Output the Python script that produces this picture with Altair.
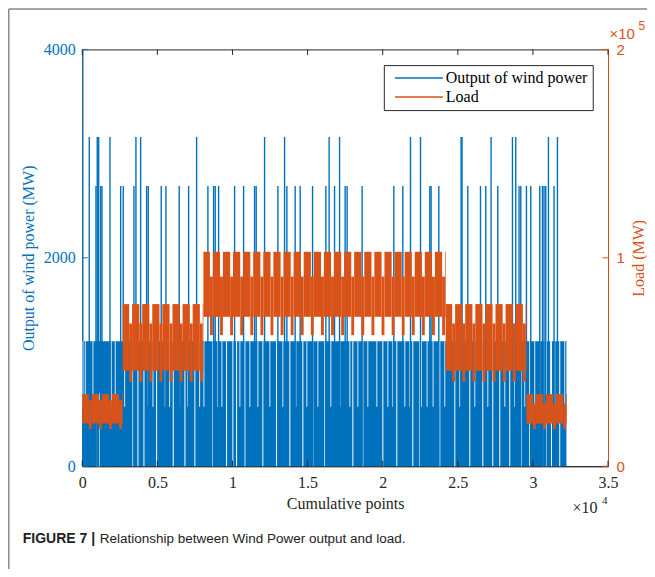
import altair as alt
import pandas as pd

BLUE = "#0072BD"
ORANGE = "#D95319"
DARK = "#262626"

# ---------------- data ----------------
x_ticks = [0, 5000, 10000, 15000, 20000, 25000, 30000, 35000]
left_ticks = [0, 2000, 4000]
right_ticks = [0, 100000, 200000]

series_names = ["Output of wind power", "Load"]

# wind power: dense band and spikes
wind_start = 0
wind_end = 32232
wind_band_top = 1200
wind_band_mid = 570

spike_tall_x = [466, 998, 1091, 1843, 3573, 3886, 7612, 12137, 13468, 16435, 17127,
                21852, 22517, 25219, 25285, 27215, 28639, 28858, 31034, 31633]
spike_tall_y = 3160
spike_mid_x = [912, 1224, 1311, 2555, 2728, 3440, 4285, 4392, 5257, 5569, 6454, 7080,
               8364, 8743, 8850, 9076, 10141, 10740, 11471, 11578, 13022, 13621, 14173,
               14506, 15331, 16216, 16795, 17500, 17633, 18631, 20740, 21339, 23136,
               23222, 23735, 25665, 26510, 26862, 27661, 29078, 29191, 29570, 29857,
               30456, 30635, 30741, 30855, 31407]
spike_mid_y = 2690

# white gaps through the whole band (0 -> 1200)
gap_x = [3374, 3706, 4106, 4951, 6055, 6834, 7499, 8697, 9608, 10028, 10274, 10826,
         12024, 12935, 13820, 14685, 15351, 16149, 18013, 18678, 20009, 20940, 22005,
         22471, 23802, 24800, 25798, 26663, 27328, 27794, 28459, 29238, 29790, 30655,
         30901, 31234, 31786]
# white gaps in the upper part of the band only (570 -> 1200)
part_gap_x = [47, 200, 712, 1930, 2196, 2821, 4372, 4705, 5523, 5816, 6481, 7033, 7812,
              8098, 9030, 9296, 10493, 11159, 11691, 12490, 13355, 14220, 14952, 15684,
              16549, 17148, 17814, 18346, 19011, 19610, 20342, 20675, 21474, 21806, 22584,
              22956, 23356, 23755, 24134, 25135, 26133, 26998, 28129, 28795, 29460, 30123,
              30455, 30788, 31167, 31453, 32119]
wide_gap_x = [945]
wide_gap_x2 = [1211]
wide_gap_top = [700]

# load: plateaus with weekday / weekend ranges
plateau_start = [0, 2688, 8064, 24192, 29568]
plateau_end = [2688, 8064, 24192, 29568, 32256]
weekday_low = [20500, 45800, 71700, 45800, 20500]
weekday_high = [34600, 77800, 102900, 77800, 34600]
weekend_low = [17900, 40500, 62900, 40500, 17900]
weekend_high = [31700, 68500, 91000, 68500, 30100]
weekend_center = [532, 1204, 1876, 2548, 3220, 3892, 4564, 5236, 5908, 6580, 7252, 7924,
                  8596, 9268, 9940, 10612, 11284, 11956, 12628, 13300, 13972, 14644,
                  15316, 15988, 16660, 17332, 18004, 18676, 19348, 20020, 20692, 21364,
                  22036, 22708, 23380, 24052, 24724, 25396, 26068, 26740, 27412, 28084,
                  28756, 29428, 30100, 30772, 31444, 32116]
weekend_half = 96

# ---------------- tables ----------------
band_df = pd.DataFrame({"x": [wind_start], "x2": [wind_end], "y": [0], "y2": [wind_band_top]})
gap_df = pd.DataFrame({"x": gap_x, "y": 0, "y2": wind_band_top})
part_gap_df = pd.DataFrame({"x": part_gap_x, "y": wind_band_mid, "y2": wind_band_top})
wide_gap_df = pd.DataFrame({"x": wide_gap_x, "x2": wide_gap_x2, "y": 0, "y2": wide_gap_top})
spike_df = pd.DataFrame({
    "x": spike_tall_x + spike_mid_x,
    "y": [spike_tall_y] * len(spike_tall_x) + [spike_mid_y] * len(spike_mid_x),
})

rows = []
for i in range(len(plateau_start)):
    s, e = plateau_start[i], plateau_end[i]
    cur = s
    for c in weekend_center:
        a, b = c - weekend_half, c + weekend_half
        if b <= s or a >= e:
            continue
        a, b = max(a, s), min(b, e)
        if a > cur:
            rows.append((cur, a, weekday_low[i], weekday_high[i]))
        rows.append((a, b, weekend_low[i], weekend_high[i]))
        cur = b
    if cur < e:
        rows.append((cur, e, weekday_low[i], weekday_high[i]))
load_df = pd.DataFrame(rows, columns=["x", "x2", "y", "y2"])

xt_df = pd.DataFrame({"v": x_ticks})
lt_df = pd.DataFrame({"v": left_ticks})
rt_df = pd.DataFrame({"v": right_ticks})
legend_df = pd.DataFrame({"series": series_names})

W, H = 526, 417

# ---------------- scales / axes ----------------
xs = alt.Scale(domain=[0, 35000], nice=False, zero=False)
yl = alt.Scale(domain=[0, 4000], nice=False)
yr = alt.Scale(domain=[0, 200000], nice=False)

x_axis = alt.Axis(values=x_ticks, labelExpr="'' + datum.value/10000", title="Cumulative points",
                  ticks=False, grid=False, domainColor=DARK, labelColor=DARK, titleColor=DARK,
                  labelFont="Liberation Serif", labelFontSize=16, titleFont="Liberation Serif",
                  titleFontSize=16, titleFontWeight="normal", labelPadding=8, titlePadding=5,
                  labelFlush=False)
left_axis = alt.Axis(orient="left", values=left_ticks, format="d", title="Output of wind power (MW)",
                     ticks=False, grid=False, domainColor=BLUE, labelColor=BLUE, titleColor=BLUE,
                     labelFont="Liberation Serif", labelFontSize=16, titleFont="Liberation Serif",
                     titleFontSize=16, titleFontWeight="normal", labelPadding=7, titlePadding=7)
right_axis = alt.Axis(orient="right", values=right_ticks, labelExpr="'' + datum.value/100000",
                      title="Load (MW)", titleAngle=270, titleBaseline="top", ticks=False, grid=False,
                      domainColor=ORANGE, labelColor=ORANGE, titleColor=ORANGE,
                      labelFont="Liberation Sans", labelFontSize=15, titleFont="Liberation Serif",
                      titleFontSize=16, titleFontWeight="normal", labelPadding=8, titlePadding=6)

X = lambda f="x": alt.X(f"{f}:Q", scale=xs, axis=x_axis)
YL = lambda f="y": alt.Y(f"{f}:Q", scale=yl, axis=left_axis)
YR = lambda f="y": alt.Y(f"{f}:Q", scale=yr, axis=right_axis)

band = alt.Chart(band_df).mark_rect(color=BLUE).encode(x=X(), x2="x2:Q", y=YL(), y2="y2:Q")
gaps = alt.Chart(gap_df).mark_rule(color="white", strokeWidth=1).encode(x=X(), y=YL(), y2="y2:Q")
part_gaps = alt.Chart(part_gap_df).mark_rule(color="white", strokeWidth=1, opacity=0.85).encode(
    x=X(), y=YL(), y2="y2:Q")
wide = alt.Chart(wide_gap_df).mark_rect(color="white").encode(x=X(), x2="x2:Q", y=YL(), y2="y2:Q")
spikes = alt.Chart(spike_df).mark_rule(color=BLUE, strokeWidth=1.4).encode(
    x=X(), y=YL(), y2=alt.datum(0))
xt_bottom = alt.Chart(xt_df).mark_rule(color=DARK).encode(x=X("v"), y=alt.value(H), y2=alt.value(H - 5.5))
xt_top = alt.Chart(xt_df).mark_rule(color=DARK).encode(x=X("v"), y=alt.value(0), y2=alt.value(5.5))
lt = alt.Chart(lt_df).mark_rule(color=BLUE).encode(y=YL("v"), x=alt.value(0), x2=alt.value(5.5))

left_group = alt.layer(band, wide, gaps, part_gaps, spikes, xt_bottom, xt_top, lt)

load = alt.Chart(load_df).mark_rect(color=ORANGE).encode(x=X(), x2="x2:Q", y=YR(), y2="y2:Q")
rt = alt.Chart(rt_df).mark_rule(color=ORANGE).encode(y=YR("v"), x=alt.value(W), x2=alt.value(W - 5.5))
legend_layer = alt.Chart(legend_df).mark_rule(strokeWidth=1.5).encode(
    x=alt.value(0), x2=alt.value(0), y=alt.value(0),
    color=alt.Color("series:N", scale=alt.Scale(domain=series_names, range=[BLUE, ORANGE]),
                    legend=alt.Legend(orient="none", legendX=301.7, legendY=15.7, title=None,
                                      symbolType="M-0.3,0H7.7", symbolSize=144, symbolStrokeWidth=1.5,
                                      labelFont="Liberation Serif", labelFontSize=16,
                                      labelColor="black", strokeColor=DARK, fillColor="white",
                                      padding=5, rowPadding=3, labelOffset=41,
                                      labelLimit=300)))
right_group = alt.layer(load, rt, legend_layer)

# exponent labels, caption and frame
def txt(s, x, y, **kw):
    return alt.Chart(pd.DataFrame({"t": [s]})).mark_text(align="left", baseline="alphabetic", **kw).encode(
        text="t:N", x=alt.value(x), y=alt.value(y))

annot = alt.layer(
    txt("\u00d710", 527.5, -10, font="Liberation Sans", fontSize=15, color=ORANGE),
    txt("5", 556.5, -19, font="Liberation Sans", fontSize=12, color=ORANGE),
    txt("\u00d710", 490.5, 464, font="Liberation Serif", fontSize=16, color=DARK),
    txt("4", 520, 455, font="Liberation Serif", fontSize=11, color=DARK),
    txt("FIGURE 7 |", -59.5, 494, font="Liberation Sans", fontSize=14, fontWeight="bold", color="#222222"),
    txt("Relationship between Wind Power output and load.", 17.5, 494, font="Liberation Sans",
        fontSize=13.5, color="#222222"),
)
frame = alt.layer(
    alt.Chart(pd.DataFrame({"a": [0]})).mark_rule(color="#8a8a8a", strokeWidth=1.5).encode(
        x=alt.value(-73.5), x2=alt.value(580), y=alt.value(-40.5)),
    alt.Chart(pd.DataFrame({"a": [0]})).mark_rule(color="#8a8a8a", strokeWidth=1.5).encode(
        x=alt.value(-73.5), y=alt.value(-40.5), y2=alt.value(530)),
)

chart = alt.layer(left_group, right_group, annot, frame).resolve_scale(y="independent").properties(
    width=W, height=H,
    autosize=alt.AutoSizeParams(type="none"),
    padding={"left": 74.3, "top": 41.3, "right": 39, "bottom": 103},
).configure_view(stroke=DARK, strokeWidth=1).configure_axis(domainWidth=1)

chart.save("out.html", embed_options={"renderer": "svg", "actions": False})
